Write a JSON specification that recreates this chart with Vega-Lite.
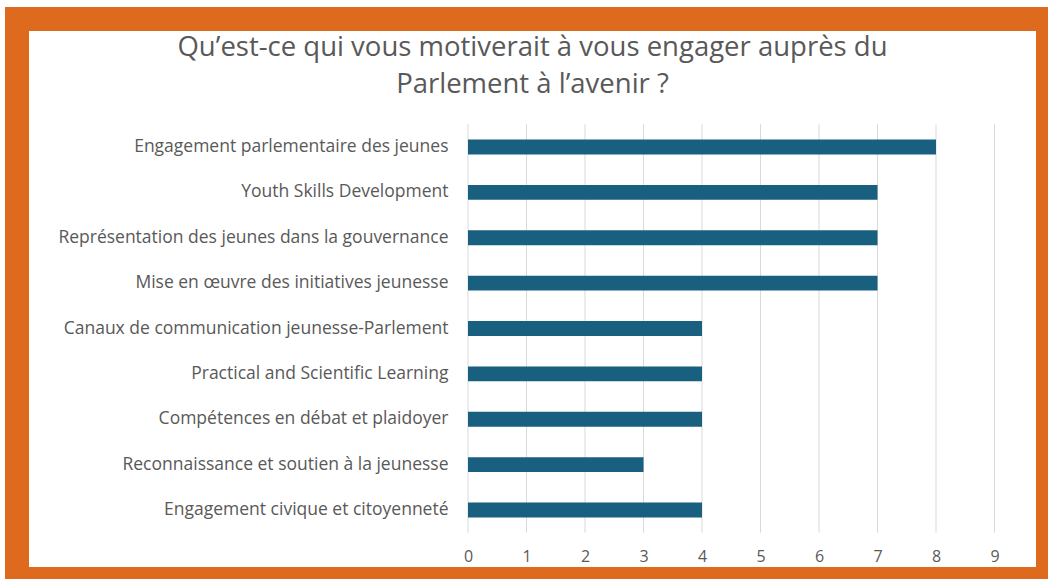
{
  "$schema": "https://vega.github.io/schema/vega-lite/v6.json",
  "width": 1031,
  "height": 560,
  "autosize": "none",
  "padding": {"left": 17, "top": 19, "right": 0, "bottom": 0},
  "background": "white",
  "config": {
    "view": {"fill": "white", "stroke": "#DE6A1E", "strokeWidth": 24},
    "font": "Open Sans"
  },
  "title": {
    "text": ["Qu’est-ce qui vous motiverait à vous engager auprès du", "Parlement à l’avenir ?"],
    "anchor": "middle",
    "frame": "group",
    "orient": "top",
    "baseline": "bottom",
    "offset": 0,
    "dy": 107,
    "fontSize": 27.5,
    "fontWeight": "normal",
    "color": "#595959",
    "lineHeight": 37,
    "font": "Open Sans"
  },
  "data": {
    "values": [
      {"category": "Engagement parlementaire des jeunes", "value": 8},
      {"category": "Youth Skills Development", "value": 7},
      {"category": "Représentation des jeunes dans la gouvernance", "value": 7},
      {"category": "Mise en œuvre des initiatives jeunesse", "value": 7},
      {"category": "Canaux de communication jeunesse-Parlement", "value": 4},
      {"category": "Practical and Scientific Learning", "value": 4},
      {"category": "Compétences en débat et plaidoyer", "value": 4},
      {"category": "Reconnaissance et soutien à la jeunesse", "value": 3},
      {"category": "Engagement civique et citoyenneté", "value": 4}
    ]
  },
  "layer": [
    {
      "data": {"values": [{"t": 0}, {"t": 1}, {"t": 2}, {"t": 3}, {"t": 4}, {"t": 5}, {"t": 6}, {"t": 7}, {"t": 8}, {"t": 9}]},
      "mark": {"type": "rule", "color": "#D9D9D9", "strokeWidth": 1},
      "encoding": {
        "x": {"field": "t", "type": "quantitative"},
        "y": {"datum": "Engagement parlementaire des jeunes", "bandPosition": 0},
        "y2": {"datum": "Engagement civique et citoyenneté", "bandPosition": 1}
      }
    },
    {
      "mark": {"type": "bar", "color": "#185F80", "height": {"band": 0.33}},
      "encoding": {
        "x": {
          "field": "value",
          "type": "quantitative",
          "scale": {"domain": [-7.7094, 9.9145], "nice": false, "zero": false},
          "axis": {
            "values": [0, 1, 2, 3, 4, 5, 6, 7, 8, 9],
            "format": "d",
            "title": null,
            "domain": false,
            "ticks": false,
            "tickSize": 0,
            "grid": false,
            "labelFontSize": 16,
            "labelColor": "#595959",
            "labelPadding": 0,
            "offset": -31,
            "labelFont": "Open Sans"
          }
        },
        "y": {
          "field": "category",
          "type": "nominal",
          "sort": null,
          "scale": {
            "domain": [
              "Engagement parlementaire des jeunes",
              "Youth Skills Development",
              "Représentation des jeunes dans la gouvernance",
              "Mise en œuvre des initiatives jeunesse",
              "Canaux de communication jeunesse-Parlement",
              "Practical and Scientific Learning",
              "Compétences en débat et plaidoyer",
              "Reconnaissance et soutien à la jeunesse",
              "Engagement civique et citoyenneté"
            ],
            "range": [105.3, 513.7],
            "paddingInner": 0,
            "paddingOuter": 0
          },
          "axis": {
            "title": null,
            "domain": false,
            "ticks": false,
            "tickSize": 0,
            "grid": false,
            "labelPadding": 0,
            "offset": -431,
            "labelFontSize": 17.5,
            "labelColor": "#595959",
            "labelLimit": 0,
            "labelFont": "Open Sans"
          }
        }
      }
    }
  ]
}
